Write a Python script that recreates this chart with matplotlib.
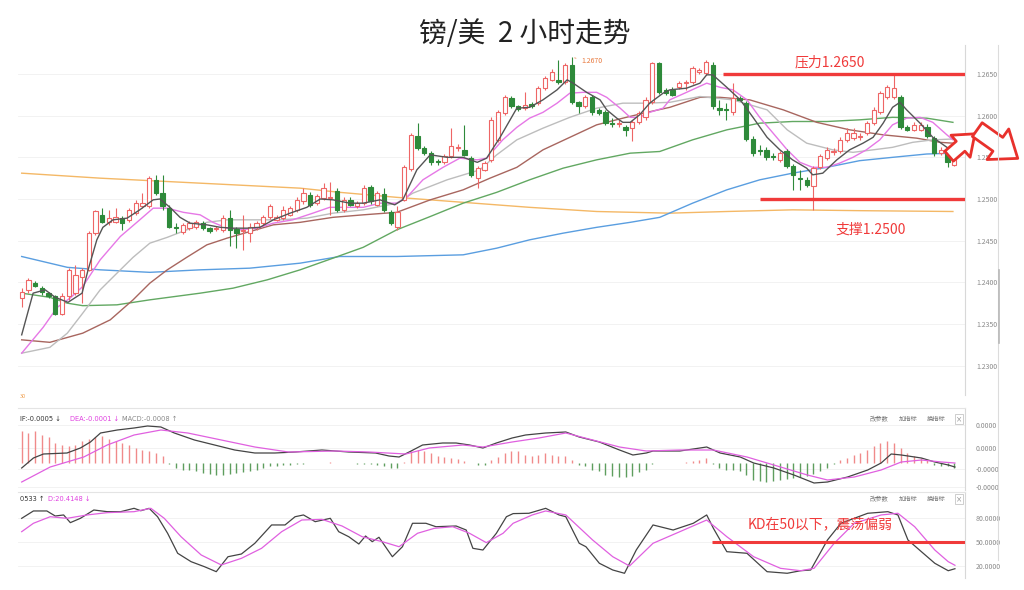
import matplotlib
matplotlib.use("Agg")
import matplotlib.pyplot as plt
import matplotlib.patches as mpatches
from matplotlib.lines import Line2D
import numpy as np

# 2小时K线 (开, 高, 低, 收)
opens = [
    1.2381, 1.2391, 1.2399, 1.2393, 1.2387, 1.2383, 1.2362, 1.2383, 1.2387, 1.2406,
    1.2415, 1.2459, 1.2481, 1.2472, 1.2472, 1.2477, 1.2475, 1.2483, 1.2492, 1.2491,
    1.2523, 1.2507, 1.2489, 1.2466, 1.2460, 1.2465, 1.2466, 1.2471, 1.2465, 1.2464,
    1.2463, 1.2477, 1.2464, 1.2462, 1.2459, 1.2466, 1.2471, 1.2478, 1.2475, 1.2477,
    1.2481, 1.2487, 1.2497, 1.2505, 1.2495, 1.2501, 1.2501, 1.2510, 1.2487, 1.2499,
    1.2491, 1.2495, 1.2514, 1.2493, 1.2506, 1.2484, 1.2466, 1.2499, 1.2536, 1.2575,
    1.2561, 1.2555, 1.2545, 1.2545, 1.2551, 1.2561, 1.2559, 1.2549, 1.2525, 1.2535,
    1.2547, 1.2571, 1.2603, 1.2621, 1.2611, 1.2609, 1.2614, 1.2615, 1.2633, 1.2643,
    1.2643, 1.2640, 1.2661, 1.2616, 1.2611, 1.2622, 1.2607, 1.2604, 1.2591, 1.2590,
    1.2586, 1.2585, 1.2592, 1.2598, 1.2616, 1.2663, 1.2631, 1.2631, 1.2634, 1.2639,
    1.2640, 1.2652, 1.2651, 1.2661, 1.2609, 1.2608, 1.2604, 1.2621, 1.2615, 1.2572,
    1.2559, 1.2559, 1.2551, 1.2547, 1.2557, 1.2539, 1.2525, 1.2523, 1.2515, 1.2538,
    1.2549, 1.2556, 1.2557, 1.2571, 1.2573, 1.2574, 1.2579, 1.2591, 1.2604, 1.2622,
    1.2622, 1.2622, 1.2586, 1.2583, 1.2583, 1.2586, 1.2573, 1.2555, 1.2559, 1.2541,
]
highs = [
    1.2393, 1.2405, 1.2401, 1.2395, 1.2389, 1.2385, 1.2387, 1.2417, 1.2421, 1.2417,
    1.2462, 1.2487, 1.2489, 1.2487, 1.2489, 1.2480, 1.2489, 1.2499, 1.2507, 1.2528,
    1.2529, 1.2529, 1.2493, 1.2471, 1.2471, 1.2474, 1.2475, 1.2474, 1.2467, 1.2468,
    1.2481, 1.2487, 1.2466, 1.2481, 1.2471, 1.2474, 1.2481, 1.2494, 1.2481, 1.2491,
    1.2492, 1.2502, 1.2513, 1.2508, 1.2506, 1.2519, 1.2520, 1.2513, 1.2502, 1.2502,
    1.2498, 1.2517, 1.2517, 1.2510, 1.2513, 1.2487, 1.2491, 1.2541, 1.2579, 1.2591,
    1.2564, 1.2557, 1.2548, 1.2554, 1.2585, 1.2566, 1.2589, 1.2552, 1.2540, 1.2546,
    1.2598, 1.2607, 1.2625, 1.2624, 1.2613, 1.2629, 1.2616, 1.2636, 1.2648, 1.2656,
    1.2667, 1.2663, 1.2670, 1.2618, 1.2625, 1.2625, 1.2609, 1.2607, 1.2597, 1.2595,
    1.2589, 1.2595, 1.2606, 1.2622, 1.2664, 1.2664, 1.2633, 1.2634, 1.2642, 1.2643,
    1.2660, 1.2657, 1.2667, 1.2664, 1.2619, 1.2615, 1.2639, 1.2623, 1.2618, 1.2575,
    1.2565, 1.2562, 1.2555, 1.2558, 1.2560, 1.2542, 1.2535, 1.2526, 1.2540, 1.2554,
    1.2562, 1.2561, 1.2574, 1.2585, 1.2585, 1.2579, 1.2594, 1.2610, 1.2630, 1.2637,
    1.2649, 1.2625, 1.2589, 1.2592, 1.2592, 1.2590, 1.2576, 1.2562, 1.2562, 1.2554,
]
lows = [
    1.2370, 1.2387, 1.2394, 1.2385, 1.2381, 1.2361, 1.2361, 1.2379, 1.2385, 1.2375,
    1.2413, 1.2457, 1.2471, 1.2469, 1.2471, 1.2463, 1.2472, 1.2481, 1.2489, 1.2489,
    1.2505, 1.2487, 1.2465, 1.2459, 1.2458, 1.2463, 1.2464, 1.2463, 1.2459, 1.2461,
    1.2460, 1.2443, 1.2441, 1.2439, 1.2448, 1.2463, 1.2469, 1.2476, 1.2473, 1.2475,
    1.2479, 1.2485, 1.2494, 1.2490, 1.2493, 1.2499, 1.2481, 1.2485, 1.2485, 1.2491,
    1.2489, 1.2493, 1.2494, 1.2491, 1.2484, 1.2469, 1.2463, 1.2497, 1.2534, 1.2559,
    1.2553, 1.2541, 1.2541, 1.2542, 1.2549, 1.2558, 1.2551, 1.2527, 1.2513, 1.2533,
    1.2545, 1.2569, 1.2601, 1.2609, 1.2606, 1.2607, 1.2609, 1.2613, 1.2631, 1.2641,
    1.2638, 1.2638, 1.2614, 1.2603, 1.2609, 1.2601, 1.2601, 1.2589, 1.2586, 1.2587,
    1.2575, 1.2570, 1.2590, 1.2595, 1.2614, 1.2626, 1.2625, 1.2623, 1.2632, 1.2631,
    1.2638, 1.2650, 1.2649, 1.2608, 1.2601, 1.2595, 1.2601, 1.2617, 1.2570, 1.2552,
    1.2553, 1.2547, 1.2547, 1.2545, 1.2537, 1.2511, 1.2511, 1.2514, 1.2487, 1.2536,
    1.2547, 1.2553, 1.2555, 1.2569, 1.2571, 1.2571, 1.2577, 1.2589, 1.2602, 1.2620,
    1.2620, 1.2584, 1.2581, 1.2581, 1.2581, 1.2573, 1.2552, 1.2553, 1.2538, 1.2539,
]
closes = [
    1.2388, 1.2403, 1.2396, 1.2388, 1.2383, 1.2362, 1.2383, 1.2415, 1.2409, 1.2415,
    1.2459, 1.2485, 1.2472, 1.2477, 1.2478, 1.2471, 1.2487, 1.2495, 1.2495, 1.2525,
    1.2507, 1.2491, 1.2466, 1.2465, 1.2469, 1.2471, 1.2472, 1.2465, 1.2462, 1.2465,
    1.2477, 1.2463, 1.2459, 1.2463, 1.2466, 1.2471, 1.2478, 1.2491, 1.2478, 1.2487,
    1.2489, 1.2499, 1.2507, 1.2493, 1.2503, 1.2513, 1.2502, 1.2487, 1.2499, 1.2493,
    1.2495, 1.2513, 1.2497, 1.2507, 1.2487, 1.2471, 1.2484, 1.2538, 1.2577, 1.2561,
    1.2555, 1.2545, 1.2544, 1.2551, 1.2563, 1.2562, 1.2553, 1.2529, 1.2537, 1.2543,
    1.2595, 1.2604, 1.2622, 1.2611, 1.2608, 1.2613, 1.2611, 1.2633, 1.2645, 1.2652,
    1.2640, 1.2661, 1.2616, 1.2611, 1.2622, 1.2604, 1.2603, 1.2591, 1.2590, 1.2591,
    1.2583, 1.2592, 1.2603, 1.2619, 1.2663, 1.2628, 1.2627, 1.2625, 1.2639, 1.2640,
    1.2657, 1.2655, 1.2664, 1.2611, 1.2607, 1.2607, 1.2621, 1.2619, 1.2572, 1.2555,
    1.2558, 1.2550, 1.2550, 1.2555, 1.2539, 1.2529, 1.2524, 1.2517, 1.2537, 1.2551,
    1.2559, 1.2557, 1.2571, 1.2579, 1.2579, 1.2575, 1.2591, 1.2607, 1.2627, 1.2634,
    1.2633, 1.2586, 1.2583, 1.2589, 1.2589, 1.2575, 1.2555, 1.2559, 1.2545, 1.2551,
]

# 均线 (K线序号, 价格) 读图取点
ma5_x = [0, 1.7, 3.5, 5.0, 6.9, 9.0, 9.9, 11.2, 12.1, 13.6, 15.7, 17.6, 19.6, 20.6, 22.1, 23.6, 25.1, 27.6, 29.6, 31.5,
         33.6, 35.5, 37.5, 40.0, 42.5, 44.5, 46.4, 48.9, 50.9, 53.4, 55.6, 56.8, 58.9, 60.9, 63.4, 65.8, 67.9, 69.3, 71.3, 73.8,
         75.7, 77.7, 79.8, 81.3, 82.2, 84.2, 86.2, 87.2, 88.7, 89.6, 90.7, 92.1, 93.6, 95.6, 96.6, 99.1, 101.1, 102.1, 103.0, 105.1,
         107.1, 109.0, 111.1, 113.0, 114.9, 117.0, 117.9, 119.4, 121.5, 123.4, 125.4, 126.9, 128.4, 129.8, 130.9, 131.9, 133.9, 135.8, 137.9, 138.8]
ma5_v = [1.2337, 1.2387, 1.2391, 1.2382, 1.2376, 1.2387, 1.2415, 1.2451, 1.2466, 1.2475, 1.2477, 1.2487, 1.2499, 1.2500, 1.2490, 1.2478, 1.2471, 1.2469, 1.2466, 1.2465,
         1.2465, 1.2466, 1.2475, 1.2483, 1.2490, 1.2500, 1.2499, 1.2495, 1.2495, 1.2499, 1.2493, 1.2499, 1.2535, 1.2553, 1.2550, 1.2550, 1.2544, 1.2549, 1.2574, 1.2609,
         1.2610, 1.2619, 1.2631, 1.2643, 1.2639, 1.2628, 1.2619, 1.2607, 1.2597, 1.2592, 1.2592, 1.2601, 1.2615, 1.2627, 1.2631, 1.2633, 1.2639, 1.2649, 1.2649, 1.2634,
         1.2619, 1.2598, 1.2574, 1.2559, 1.2547, 1.2537, 1.2529, 1.2531, 1.2547, 1.2559, 1.2567, 1.2574, 1.2591, 1.2610, 1.2616, 1.2607, 1.2591, 1.2574, 1.2562, 1.2559]
ma10_x = [0, 3.2, 5.3, 7.2, 9.1, 11.7, 14.7, 17.6, 19.6, 21.7, 24.1, 26.6, 28.5, 30.6, 32.5, 35.1, 37.5, 40.4, 43.4, 45.9,
          50.9, 53.4, 55.9, 57.4, 59.8, 62.8, 65.3, 67.9, 69.3, 71.7, 73.8, 75.7, 77.7, 79.8, 81.7, 83.7, 85.7, 87.2, 89.2, 90.7,
          92.1, 93.6, 95.6, 96.6, 99.1, 102.1, 104.1, 106.0, 108.1, 110.0, 112.0, 114.1, 116.0, 117.9, 120.0, 121.9, 123.9, 125.9, 127.9, 129.8,
          131.9, 133.9, 135.8, 137.9, 138.8]
ma10_v = [1.2315, 1.2346, 1.2370, 1.2381, 1.2395, 1.2427, 1.2455, 1.2475, 1.2489, 1.2489, 1.2484, 1.2481, 1.2472, 1.2465, 1.2463, 1.2465, 1.2471, 1.2475, 1.2483, 1.2490,
          1.2490, 1.2495, 1.2495, 1.2502, 1.2523, 1.2538, 1.2549, 1.2547, 1.2549, 1.2571, 1.2586, 1.2597, 1.2604, 1.2615, 1.2627, 1.2628, 1.2628, 1.2622, 1.2609, 1.2598,
          1.2598, 1.2604, 1.2609, 1.2619, 1.2628, 1.2639, 1.2634, 1.2631, 1.2619, 1.2598, 1.2579, 1.2559, 1.2544, 1.2538, 1.2538, 1.2543, 1.2550, 1.2559, 1.2571, 1.2589,
          1.2597, 1.2598, 1.2592, 1.2577, 1.2571]
ma20_x = [0, 4.2, 6.8, 9.1, 11.7, 14.2, 16.6, 19.1, 21.7, 24.6, 27.6, 30.6, 34.5, 38.5, 42.5, 46.4, 50.9, 55.9, 58.3, 63.4,
          68.3, 70.8, 73.8, 77.7, 81.7, 85.7, 89.6, 93.2, 96.6, 101.1, 106.0, 111.1, 114.1, 117.0, 120.9, 123.9, 126.9, 129.8, 132.8, 135.8, 138.8]
ma20_v = [1.2315, 1.2322, 1.2339, 1.2363, 1.2391, 1.2411, 1.2430, 1.2447, 1.2454, 1.2463, 1.2472, 1.2475, 1.2475, 1.2475, 1.2477, 1.2483, 1.2487, 1.2495, 1.2507, 1.2523,
          1.2535, 1.2553, 1.2571, 1.2585, 1.2598, 1.2609, 1.2615, 1.2615, 1.2616, 1.2623, 1.2619, 1.2607, 1.2583, 1.2567, 1.2559, 1.2556, 1.2559, 1.2562, 1.2568, 1.2571, 1.2572]
ma30_x = [0, 4.2, 9.1, 13.2, 16.6, 19.1, 21.7, 24.6, 27.6, 30.6, 33.6, 37.5, 41.5, 46.4, 50.9, 55.9, 60.9, 65.8, 69.8, 73.8,
          77.7, 81.7, 85.7, 89.6, 93.2, 96.6, 101.1, 104.1, 108.5, 113.5, 118.5, 123.4, 128.4, 133.4, 136.9, 138.8]
ma30_v = [1.2331, 1.2328, 1.2339, 1.2355, 1.2379, 1.2399, 1.2415, 1.2430, 1.2445, 1.2453, 1.2460, 1.2469, 1.2472, 1.2478, 1.2481, 1.2484, 1.2499, 1.2511, 1.2525, 1.2538,
          1.2559, 1.2574, 1.2589, 1.2597, 1.2604, 1.2610, 1.2622, 1.2622, 1.2619, 1.2607, 1.2592, 1.2583, 1.2577, 1.2573, 1.2568, 1.2567]
ma60_x = [0, 4.2, 6.8, 9.1, 14.2, 19.1, 26.6, 31.5, 36.6, 41.5, 46.4, 50.9, 55.9, 60.9, 65.8, 70.8, 75.7, 80.7, 85.7, 90.7,
          95.1, 100.0, 105.1, 110.0, 114.9, 120.0, 124.9, 129.8, 134.9, 138.8]
ma60_v = [1.2387, 1.2382, 1.2375, 1.2372, 1.2373, 1.2379, 1.2387, 1.2393, 1.2403, 1.2415, 1.2429, 1.2442, 1.2463, 1.2479, 1.2495, 1.2508, 1.2523, 1.2537, 1.2547, 1.2555,
          1.2557, 1.2571, 1.2583, 1.2591, 1.2593, 1.2593, 1.2595, 1.2598, 1.2597, 1.2592]
ma120_x = [0, 6.8, 11.7, 19.1, 26.6, 34.0, 41.5, 47.4, 55.9, 65.8, 70.8, 75.7, 80.7, 85.7, 90.7, 95.1, 100.0, 105.1, 110.0, 114.9,
           120.0, 124.9, 129.8, 134.9, 138.8]
ma120_v = [1.2431, 1.2418, 1.2415, 1.2412, 1.2415, 1.2417, 1.2423, 1.2431, 1.2431, 1.2433, 1.2441, 1.2451, 1.2459, 1.2466, 1.2472, 1.2478, 1.2495, 1.2511, 1.2523, 1.2531,
           1.2538, 1.2546, 1.2550, 1.2554, 1.2555]
ma250_x = [0, 11.7, 26.6, 41.5, 47.4, 55.9, 65.8, 75.7, 85.7, 96.6, 105.1, 114.9, 124.9, 138.8]
ma250_v = [1.2531, 1.2525, 1.2519, 1.2513, 1.2508, 1.2502, 1.2496, 1.2490, 1.2485, 1.2483, 1.2485, 1.2487, 1.2486, 1.2485]

# MACD (单位 1e-4)
macd_hist = [
    15.8, 15.0, 15.8, 14.2, 13.0, 10.0, 9.2, 8.3, 9.2, 10.8, 12.0, 13.0, 13.3, 12.0, 10.8, 10.0, 9.2, 7.5, 6.7, 5.8,
    5.0, 3.3, -0.3, -2.5, -3.3, -3.7, -4.2, -5.0, -5.3, -5.8, -5.8, -5.3, -5.0, -4.7, -4.2, -3.3, -2.5, -1.7, -1.3, -1.0,
    -0.8, -0.3, -0.3, -0.2, 0.2, 0.2, 0.3, 0.2, 0.1, -0.2, -0.3, -0.5, -0.5, -0.8, -1.3, -2.5, -2.5, 0.3, 5.8, 6.7,
    5.8, 5.0, 3.3, 3.0, 2.5, 2.0, 0.8, 0.2, -0.8, -1.0, 1.7, 3.0, 5.0, 5.8, 5.8, 4.2, 3.3, 4.2, 5.0, 4.2,
    3.7, 3.3, 1.3, -0.8, -1.7, -3.3, -4.2, -5.8, -6.7, -7.0, -7.0, -6.3, -4.7, -3.3, -0.3, 0.2, -0.2, 0.2, 0.2, 0.3,
    0.8, 1.7, 2.5, -0.3, -2.5, -3.3, -3.7, -4.2, -5.8, -8.3, -9.2, -9.7, -9.2, -8.3, -8.0, -7.5, -7.0, -6.3, -5.3, -4.2,
    -2.5, -0.5, 1.7, 2.5, 4.2, 5.0, 6.7, 8.3, 10.0, 10.8, 10.0, 7.5, 5.0, 3.3, 2.5, 1.7, -0.8, -1.3, -1.7, -2.5,
]
dif_x = [0, 1.75, 3.25, 6.75, 8.75, 10.25, 11.75, 14.25, 16.75, 18.75, 20.75, 22.75, 25.75, 28.75, 31.75, 34.75, 37.75, 40.75, 44.75, 48.75,
         52.75, 54.75, 56.25, 57.75, 59.75, 62.75, 64.75, 66.75, 68.75, 70.75, 73.1, 75.1, 78.1, 81.1, 83.1, 86.1, 89.1, 91.1, 93.1, 94.1,
         98.1, 102.1, 104.1, 107.1, 109.1, 112.1, 115.1, 118.1, 120.1, 123.1, 126.1, 128.1, 129.6, 131.1, 134.1, 136.1, 138.1, 139.1]
dif_v = [-2.5, 2.5, 4.5, 5.0, 7.5, 10.5, 15.0, 16.5, 17.5, 18.5, 18.0, 15.0, 11.5, 9.0, 6.5, 5.0, 5.0, 5.5, 6.5, 5.5,
         5.0, 3.5, 3.0, 5.5, 9.0, 10.0, 10.0, 9.0, 7.5, 10.0, 12.5, 14.0, 15.0, 15.5, 13.0, 10.5, 6.5, 4.0, 5.0, 6.0,
         6.0, 8.0, 5.0, 3.0, 0.0, -2.5, -6.0, -10.0, -9.5, -7.0, -3.5, 0.0, 4.5, 4.0, 2.5, 0.5, -1.0, -2.0]
dea_x = [0, 4.25, 9.25, 12.75, 16.75, 20.75, 24.75, 29.75, 34.75, 39.75, 46.75, 51.75, 57.25, 60.75, 65.75, 68.75, 73.1, 77.1, 81.1, 85.1,
         89.1, 93.1, 98.1, 103.1, 108.1, 113.1, 117.1, 120.1, 124.1, 128.1, 131.1, 134.1, 137.1, 139.1]
dea_v = [-9.5, -2.0, 3.0, 9.0, 14.0, 16.5, 15.0, 11.5, 8.0, 5.5, 6.0, 5.5, 4.5, 7.5, 9.0, 8.0, 10.5, 12.5, 15.0, 11.5,
         8.0, 6.0, 6.5, 6.5, 3.0, -2.0, -6.0, -8.5, -7.0, -3.5, 0.5, 1.5, 0.5, 0.0]

# KD
k_x = [0, 1.75, 3.75, 5, 6.25, 7.25, 8.75, 10.75, 12.75, 14.75, 16.75, 17.75, 19, 20.25, 21.75, 23.25, 25.25, 27.25, 29, 30.75,
       32.75, 34.75, 37.25, 39.25, 40.75, 42, 43.75, 46, 47.25, 48.75, 50.25, 51.25, 52.25, 53.25, 55.25, 56.75, 58.25, 60.25, 61.75, 64.75,
       66.25, 67.25, 68.75, 70.75, 72.25, 73.25, 75.6, 78.1, 80.1, 81.1, 83.1, 84.1, 86.1, 88.1, 89.85, 91.6, 94.1, 97.1, 100.1, 102.1,
       103.1, 105.1, 108.1, 111.1, 114.1, 116.1, 117.6, 120.1, 122.1, 126.1, 129.1, 130.6, 132.1, 134.1, 136.1, 138.1, 139.1]
k_v = [79.1, 88.3, 88.3, 82.0, 83.3, 73.7, 79.1, 89.5, 87.4, 87.4, 91.6, 88.6, 91.6, 81.1, 60.4, 35.4, 24.9, 18.6, 12.4, 31.1,
       34.5, 47.9, 70.8, 70.8, 81.1, 83.3, 74.9, 79.1, 62.4, 56.1, 47.0, 57.0, 49.9, 55.4, 31.1, 43.6, 72.9, 72.9, 68.6, 69.5,
       64.5, 41.6, 39.5, 60.4, 81.1, 85.0, 85.4, 91.6, 83.3, 81.1, 47.9, 43.6, 22.9, 14.5, 10.4, 39.5, 70.8, 64.5, 72.9, 83.3,
       66.6, 37.4, 35.4, 12.4, 10.4, 13.6, 14.5, 52.0, 72.9, 85.4, 87.4, 83.3, 52.0, 37.4, 22.9, 13.6, 16.1]
d_x = [0, 1.75, 4.25, 6.75, 9.75, 12.75, 16.75, 19.25, 21.25, 23.75, 26.75, 29.75, 32.75, 35.75, 38.75, 41.75, 44.75, 47.75, 50.75, 53.75,
       56.25, 59, 61.5, 64.25, 66.75, 69.25, 71.75, 73.25, 76.1, 78.1, 81.1, 85.1, 88.1, 90.6, 94.1, 98.1, 102.1, 105.1, 109.1, 113.1,
       116.1, 118.1, 121.1, 124.1, 128.1, 130.6, 133.1, 136.1, 138.1, 139.1]
d_v = [62.4, 72.9, 81.1, 79.1, 83.3, 86.2, 87.4, 91.6, 79.1, 56.1, 33.3, 20.8, 29.1, 41.6, 62.4, 77.0, 77.8, 69.5, 56.1, 49.9,
       43.6, 60.4, 66.6, 68.6, 60.4, 48.7, 60.4, 72.9, 83.3, 88.3, 83.3, 52.0, 31.1, 19.5, 47.9, 62.4, 77.0, 56.1, 31.1, 16.6,
       13.6, 16.6, 47.9, 72.9, 83.3, 85.4, 68.6, 39.5, 24.9, 20.4]

price_ticks = [1.2300, 1.2350, 1.2400, 1.2450, 1.2500, 1.2550, 1.2600, 1.2650]
macd_ticks = [19.0, 7.5, -3.0, -12.0]
macd_tick_labels = ["0.0000", "0.0000", "-0.0000", "-0.0000"]
kd_ticks = [80, 50, 20]
kd_tick_labels = ["80.0000", "50.0000", "20.0000"]

resistance = 1.2650
support = 1.2500
kd_level = 50
resistance_from, support_from, kd_from = 104.5, 110.0, 102.9

RED = "#ee6666"
GREEN = "#2e8a3a"
ANNO = "#f03a3a"

plt.rcParams["font.family"] = ["Noto Sans CJK SC", "DejaVu Sans"]
plt.rcParams["axes.unicode_minus"] = False

W, H = 1024, 590
fig = plt.figure(figsize=(W / 100, H / 100), dpi=100)


def box(top, bottom, left=18, right=965):
    return [left / W, 1 - bottom / H, (right - left) / W, (bottom - top) / H]


def fpos(px, py):
    return (px / W, 1 - py / H)


ax = fig.add_axes(box(45, 395))
ax_macd = fig.add_axes(box(408, 490))
ax_kd = fig.add_axes(box(492, 578))
xlim = (-0.55, 140.6)

for a in (ax, ax_macd, ax_kd):
    a.set_xlim(*xlim)
    for s in ("left", "bottom", "top"):
        a.spines[s].set_visible(False)
    a.spines["right"].set_color("#d8d8d8")
    a.yaxis.tick_right()
    a.tick_params(axis="x", bottom=False, labelbottom=False)
    a.tick_params(axis="y", length=0, labelsize=5, labelcolor="#8a8a8a", pad=8)
    a.grid(axis="y", color="#f0f0f0", lw=0.6)
    a.set_axisbelow(True)
for a in (ax_macd, ax_kd):
    a.spines["top"].set_visible(True)
    a.spines["top"].set_color("#e4e4e4")

# --- 主图 ---
x = np.arange(len(closes))
o, h, l, c = (np.array(v) for v in (opens, highs, lows, closes))
up = c >= o
wick_col = np.where(up, RED, GREEN)
ax.vlines(x, l, h, colors=wick_col, lw=0.8, zorder=4)
body = np.maximum(np.abs(c - o), 0.00004)
base = np.minimum(o, c)
ax.bar(x[up], body[up], bottom=base[up], width=0.64, color="white", edgecolor=RED, lw=0.8, zorder=5)
ax.bar(x[~up], body[~up], bottom=base[~up], width=0.64, color=GREEN, edgecolor=GREEN, lw=0.8, zorder=5)

ax.plot(ma250_x, ma250_v, color="#f4b866", lw=1.0, zorder=2)
ax.plot(ma120_x, ma120_v, color="#5a9ee0", lw=1.0, zorder=2)
ax.plot(ma60_x, ma60_v, color="#62a862", lw=1.0, zorder=2)
ax.plot(ma30_x, ma30_v, color="#a8665f", lw=1.0, zorder=3)
ax.plot(ma20_x, ma20_v, color="#bdbdbd", lw=1.0, zorder=3)
ax.plot(ma10_x, ma10_v, color="#e678e6", lw=1.0, zorder=3)
ax.plot(ma5_x, ma5_v, color="#555555", lw=1.0, zorder=6)

ax.set_ylim(1.22648, 1.26848)
ax.set_yticks(price_ticks)
ax.set_yticklabels([f"{t:.4f}" for t in price_ticks])

ax.hlines(resistance, resistance_from, xlim[1], color=ANNO, lw=2.4, zorder=7)
ax.hlines(support, support_from, xlim[1], color=ANNO, lw=2.4, zorder=7)
ax.text(120.5, 1.2664, "压力1.2650", color=ANNO, fontsize=10, ha="center", va="center")
ax.text(126.6, 1.2463, "支撑1.2500", color=ANNO, fontsize=10, ha="center", va="center")

hi = int(np.argmax(h))
ax.annotate(f"{h[hi]:.4f}", xy=(hi, h[hi]), xytext=(7, -3), textcoords="offset points",
            fontsize=5, color="#e8783c", va="center",
            arrowprops=dict(arrowstyle="-", color="#e8783c", lw=0.5))

# --- MACD ---
hist = np.array(macd_hist)
ax_macd.vlines(x, 0, hist, colors=np.where(hist >= 0, "#f08a8a", "#5e9e5e"), lw=1.0)
ax_macd.plot(dif_x, dif_v, color="#444444", lw=0.9)
ax_macd.plot(dea_x, dea_v, color="#e060e0", lw=0.9)
ax_macd.set_ylim(-13.5, 27.5)
ax_macd.set_yticks(macd_ticks)
ax_macd.set_yticklabels(macd_tick_labels)

# --- KD ---
ax_kd.plot(k_x, k_v, color="#444444", lw=0.9)
ax_kd.plot(d_x, d_v, color="#e060e0", lw=0.9)
ax_kd.set_ylim(4.5, 112)
ax_kd.set_yticks(kd_ticks)
ax_kd.set_yticklabels(kd_tick_labels)
ax_kd.hlines(kd_level, kd_from, xlim[1], color=ANNO, lw=2.2, zorder=7)
ax_kd.text(119, 72, "KD在50以下，震荡偏弱", color=ANNO, fontsize=10, ha="center", va="center")

# --- 标题与指标说明 ---
fig.text(*fpos(525, 34), "镑/美  2 小时走势", fontsize=20, ha="center", va="center", color="#222222")

hdr = dict(fontsize=4.8, va="center", family=["DejaVu Sans"])
fig.text(*fpos(20, 419), "IF:-0.0005 ↓", color="#333333", **hdr)
fig.text(*fpos(70, 419), "DEA:-0.0001 ↓", color="#e040e0", **hdr)
fig.text(*fpos(122, 419), "MACD:-0.0008 ↑", color="#888888", **hdr)
fig.text(*fpos(20, 499), "0533 ↑", color="#333333", **hdr)
fig.text(*fpos(48, 499), "D:20.4148 ↓", color="#e040e0", **hdr)
fig.text(*fpos(20, 397), "30", color="#f0a050", fontsize=4, va="center")

for yy in (419, 499):
    fig.text(*fpos(870, yy), "改参数", fontsize=4.5, color="#777777", va="center")
    fig.text(*fpos(899, yy), "加指标", fontsize=4.5, color="#777777", va="center")
    fig.text(*fpos(927, yy), "换指标", fontsize=4.5, color="#777777", va="center")
    fig.text(*fpos(959, yy), "×", fontsize=4.5, color="#777777", va="center", ha="center",
             bbox=dict(boxstyle="square,pad=0.15", fc="white", ec="#bbbbbb", lw=0.5))

fig.add_artist(Line2D([998 / W, 998 / W], [1 - 45 / H, 1 - 560 / H], color="#dcdcdc", lw=0.8))
fig.add_artist(Line2D([999 / W, 999 / W], [1 - 270 / H, 1 - 343 / H], color="#b8b8b8", lw=1.2))

# 空心箭头 (起点, 终点, 大小)
for a_pt, b_pt, size in [((947, 158), (977, 132), 21), ((975, 128), (1020, 160), 27)]:
    fig.add_artist(mpatches.FancyArrowPatch(
        fpos(*a_pt), fpos(*b_pt), transform=fig.transFigure,
        arrowstyle="simple,head_length=0.65,head_width=1.0,tail_width=0.45",
        mutation_scale=size, fc="white", ec="#e8312c", lw=2.0))

fig.savefig("out.png", dpi=100)
